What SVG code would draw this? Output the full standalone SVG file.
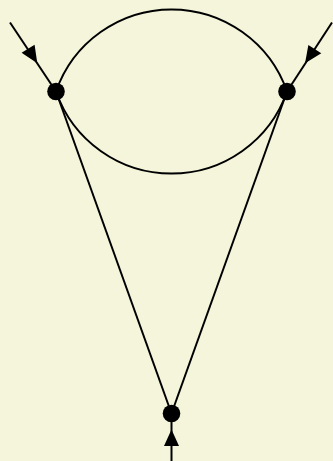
<svg xmlns="http://www.w3.org/2000/svg" width="333" height="461" viewBox="0 0 333 461">
<defs>
<style>
.e{fill:none;stroke:#000;stroke-width:2}
.v{fill:#000}
.a{fill:#000}
</style>
</defs>
<rect width="333" height="461" fill="#f5f5dc"/>
<g id="connectors">
<path class="e" d="M10,22.5 L56,91.5"/>
<path class="e" d="M332,22.5 L287,91.5"/>
<path class="e" d="M171.5,461 L171.5,413.5"/>
<path class="e" d="M56,91.5 A122.3,122.3 0 0 1 287,91.5"/>
<path class="e" d="M56,91.5 A122.3,122.3 0 0 0 287,91.5"/>
<path class="e" d="M56,91.5 L171.5,413.5"/>
<path class="e" d="M287,91.5 L171.5,413.5"/>
<polygon class="a" points="37.3,63.3 21.6,52.8 34.6,44.8"/>
<polygon class="a" points="305,63.3 308.4,45 321.3,53.2"/>
<polygon class="a" points="171.5,429.5 164,446 179,446"/>
</g>
<g id="n1"><circle class="v" cx="56" cy="91.5" r="8.8"/></g>
<g id="n2"><circle class="v" cx="287" cy="91.5" r="8.8"/></g>
<g id="n3"><circle class="v" cx="171.5" cy="413.5" r="8.8"/></g>
</svg>
